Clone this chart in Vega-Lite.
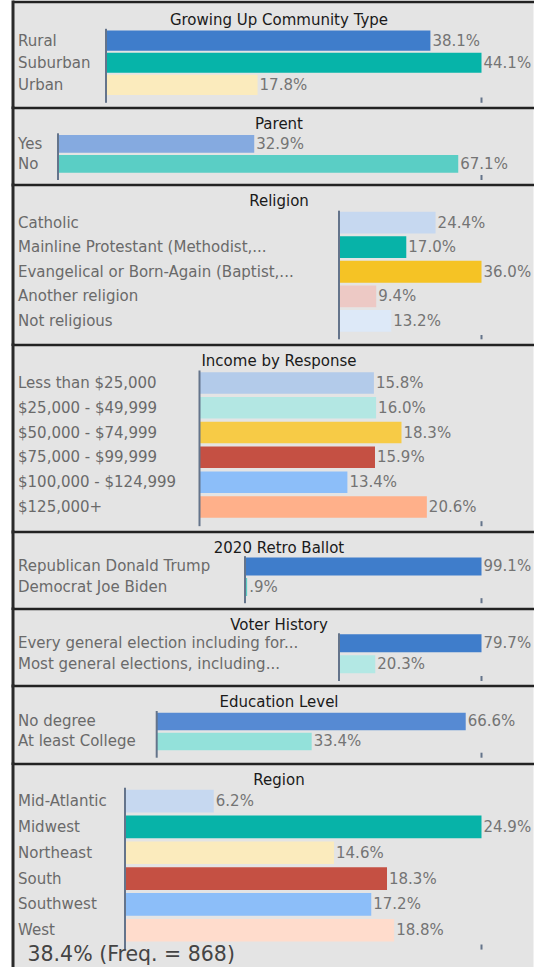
{
  "$schema": "https://vega.github.io/schema/vega-lite/v6.json",
  "background": "white",
  "padding": {"left": 12.5, "top": 1.5, "right": 0, "bottom": 0},
  "spacing": 0,
  "resolve": {"scale": {"color": "independent"}},
  "title": {"text": "38.4% (Freq. = 868)", "orient": "bottom", "anchor": "start", "frame": "bounds", "offset": -22, "dx": 15, "fontSize": 20.5, "color": "#444444", "fontWeight": "normal"},
  "config": {
    "font": "DejaVu Sans",
    "view": {"stroke": null, "fill": "#e4e4e4"},
    "axisX": {"domain": true, "domainColor": "#222222", "domainWidth": 2.5, "ticks": false, "labels": false, "grid": false},
    "axisY": {"domain": true, "domainColor": "#2a2a2a", "domainWidth": 3, "domainCap": "square", "ticks": false, "tickSize": 0, "labelAlign": "left", "labelPadding": -5, "labelFont": "DejaVu Sans", "labelFontSize": 15, "labelColor": "#6a6a6a", "labelLimit": 0, "grid": false},
    "title": {"font": "DejaVu Sans", "fontSize": 15, "fontWeight": "normal", "color": "#1a1a1a", "anchor": "middle", "frame": "group", "dx": 6},
    "text": {"font": "DejaVu Sans", "fontSize": 15, "color": "#747474"}
  },
  "vconcat": [
    {
      "width": 521, "height": 105.5,
      "title": {"text": "Growing Up Community Type", "offset": -26},
      "data": {"values": [
        {"cat": "Rural", "pct": 38.1, "label": "38.1%"},
        {"cat": "Suburban", "pct": 44.1, "label": "44.1%"},
        {"cat": "Urban", "pct": 17.8, "label": "17.8%"}
      ]},
      "layer": [
        {"mark": {"type": "bar"},
         "encoding": {
           "y": {"field": "cat", "type": "nominal", "title": null, "scale": {"domain": ["Rural", "Suburban", "Urban"], "paddingInner": 0.088, "paddingOuter": 0.926, "align": 0.707}},
           "x": {"field": "pct", "type": "quantitative", "title": null, "axis": {"orient": "top"}, "scale": {"domain": [-10.981, 50.207], "nice": false, "zero": false}},
           "color": {"field": "cat", "type": "nominal", "legend": null, "scale": {"domain": ["Rural", "Suburban", "Urban"], "range": ["#3f7dcb", "#06b4a9", "#fbebbd"]}}}},
        {"mark": {"type": "text", "align": "left", "baseline": "middle", "dx": 2},
         "encoding": {
           "y": {"field": "cat", "type": "nominal", "title": null},
           "x": {"field": "pct", "type": "quantitative", "title": null},
           "text": {"field": "label"}}},
        {"data": {"values": [{}]}, "mark": {"type": "rule", "color": "#64748b", "strokeWidth": 2},
         "encoding": {"x": {"datum": 0, "type": "quantitative"}, "y": {"datum": "Rural", "type": "nominal", "bandPosition": -0.084}, "y2": {"datum": "Urban", "bandPosition": 1.386}}},
        {"data": {"values": [{}]}, "mark": {"type": "rule", "color": "#64748b", "strokeWidth": 2},
         "encoding": {"x": {"datum": 44.1, "type": "quantitative"}, "y": {"datum": "Urban", "type": "nominal", "bandPosition": 1.124}, "y2": {"datum": "Urban", "bandPosition": 1.386}}}
      ]
    },
    {
      "width": 521, "height": 77,
      "title": {"text": "Parent", "offset": -24.5},
      "data": {"values": [
        {"cat": "Yes", "pct": 32.9, "label": "32.9%"},
        {"cat": "No", "pct": 67.1, "label": "67.1%"}
      ]},
      "layer": [
        {"mark": {"type": "bar"},
         "encoding": {
           "y": {"field": "cat", "type": "nominal", "title": null, "scale": {"domain": ["Yes", "No"], "paddingInner": 0.115, "paddingOuter": 0.9825, "align": 0.70}},
           "x": {"field": "pct", "type": "quantitative", "title": null, "axis": {"orient": "top"}, "scale": {"domain": [-7.628, 79.718], "nice": false, "zero": false}},
           "color": {"field": "cat", "type": "nominal", "legend": null, "scale": {"domain": ["Yes", "No"], "range": ["#85aae0", "#5acec5"]}}}},
        {"mark": {"type": "text", "align": "left", "baseline": "middle", "dx": 2},
         "encoding": {
           "y": {"field": "cat", "type": "nominal", "title": null},
           "x": {"field": "pct", "type": "quantitative", "title": null},
           "text": {"field": "label"}}},
        {"data": {"values": [{}]}, "mark": {"type": "rule", "color": "#64748b", "strokeWidth": 2},
         "encoding": {"x": {"datum": 0, "type": "quantitative"}, "y": {"datum": "Yes", "type": "nominal", "bandPosition": -0.096}, "y2": {"datum": "No", "bandPosition": 1.412}}},
        {"data": {"values": [{}]}, "mark": {"type": "rule", "color": "#64748b", "strokeWidth": 2},
         "encoding": {"x": {"datum": 71, "type": "quantitative"}, "y": {"datum": "No", "type": "nominal", "bandPosition": 1.13}, "y2": {"datum": "No", "bandPosition": 1.412}}}
      ]
    },
    {
      "width": 521, "height": 159.5,
      "title": {"text": "Religion", "offset": -24.5},
      "data": {"values": [
        {"cat": "Catholic", "pct": 24.4, "label": "24.4%"},
        {"cat": "Mainline Protestant (Methodist,...", "pct": 17.0, "label": "17.0%"},
        {"cat": "Evangelical or Born-Again (Baptist,...", "pct": 36.0, "label": "36.0%"},
        {"cat": "Another religion", "pct": 9.4, "label": "9.4%"},
        {"cat": "Not religious", "pct": 13.2, "label": "13.2%"}
      ]},
      "layer": [
        {"mark": {"type": "bar"},
         "encoding": {
           "y": {"field": "cat", "type": "nominal", "title": null, "scale": {"domain": ["Catholic", "Mainline Protestant (Methodist,...", "Evangelical or Born-Again (Baptist,...", "Another religion", "Not religious"], "paddingInner": 0.113, "paddingOuter": 0.8016, "align": 0.69}},
           "x": {"field": "pct", "type": "quantitative", "title": null, "axis": {"orient": "top"}, "scale": {"domain": [-82.484, 49.137], "nice": false, "zero": false}},
           "color": {"field": "cat", "type": "nominal", "legend": null, "scale": {"domain": ["Catholic", "Mainline Protestant (Methodist,...", "Evangelical or Born-Again (Baptist,...", "Another religion", "Not religious"], "range": ["#c6d8f0", "#07b3a8", "#f5c325", "#edc9c5", "#dde9f8"]}}}},
        {"mark": {"type": "text", "align": "left", "baseline": "middle", "dx": 2},
         "encoding": {
           "y": {"field": "cat", "type": "nominal", "title": null},
           "x": {"field": "pct", "type": "quantitative", "title": null},
           "text": {"field": "label"}}},
        {"data": {"values": [{}]}, "mark": {"type": "rule", "color": "#64748b", "strokeWidth": 2},
         "encoding": {"x": {"datum": 0, "type": "quantitative"}, "y": {"datum": "Catholic", "type": "nominal", "bandPosition": -0.046}, "y2": {"datum": "Not religious", "bandPosition": 1.344}}},
        {"data": {"values": [{}]}, "mark": {"type": "rule", "color": "#64748b", "strokeWidth": 2},
         "encoding": {"x": {"datum": 36.0, "type": "quantitative"}, "y": {"datum": "Not religious", "type": "nominal", "bandPosition": 1.147}, "y2": {"datum": "Not religious", "bandPosition": 1.344}}}
      ]
    },
    {
      "width": 521, "height": 187,
      "title": {"text": "Income by Response", "offset": -24.5},
      "data": {"values": [
        {"cat": "Less than $25,000", "pct": 15.8, "label": "15.8%"},
        {"cat": "$25,000 - $49,999", "pct": 16.0, "label": "16.0%"},
        {"cat": "$50,000 - $74,999", "pct": 18.3, "label": "18.3%"},
        {"cat": "$75,000 - $99,999", "pct": 15.9, "label": "15.9%"},
        {"cat": "$100,000 - $124,999", "pct": 13.4, "label": "13.4%"},
        {"cat": "$125,000+", "pct": 20.6, "label": "20.6%"}
      ]},
      "layer": [
        {"mark": {"type": "bar"},
         "encoding": {
           "y": {"field": "cat", "type": "nominal", "title": null, "scale": {"domain": ["Less than $25,000", "$25,000 - $49,999", "$50,000 - $74,999", "$75,000 - $99,999", "$100,000 - $124,999", "$125,000+"], "paddingInner": 0.133, "paddingOuter": 0.837, "align": 0.667}},
           "x": {"field": "pct", "type": "quantitative", "title": null, "axis": {"orient": "top"}, "scale": {"domain": [-16.943, 30.261], "nice": false, "zero": false}},
           "color": {"field": "cat", "type": "nominal", "legend": null, "scale": {"domain": ["Less than $25,000", "$25,000 - $49,999", "$50,000 - $74,999", "$75,000 - $99,999", "$100,000 - $124,999", "$125,000+"], "range": ["#b3cbea", "#b3e7e3", "#f7cb46", "#c55043", "#8cbef9", "#ffb08a"]}}}},
        {"mark": {"type": "text", "align": "left", "baseline": "middle", "dx": 2},
         "encoding": {
           "y": {"field": "cat", "type": "nominal", "title": null},
           "x": {"field": "pct", "type": "quantitative", "title": null},
           "text": {"field": "label"}}},
        {"data": {"values": [{}]}, "mark": {"type": "rule", "color": "#64748b", "strokeWidth": 2},
         "encoding": {"x": {"datum": 0, "type": "quantitative"}, "y": {"datum": "Less than $25,000", "type": "nominal", "bandPosition": -0.079}, "y2": {"datum": "$125,000+", "bandPosition": 1.395}}},
        {"data": {"values": [{}]}, "mark": {"type": "rule", "color": "#64748b", "strokeWidth": 2},
         "encoding": {"x": {"datum": 25.55, "type": "quantitative"}, "y": {"datum": "$125,000+", "type": "nominal", "bandPosition": 1.163}, "y2": {"datum": "$125,000+", "bandPosition": 1.395}}}
      ]
    },
    {
      "width": 521, "height": 76.5,
      "title": {"text": "2020 Retro Ballot", "offset": -24},
      "data": {"values": [
        {"cat": "Republican Donald Trump", "pct": 99.1, "label": "99.1%"},
        {"cat": "Democrat Joe Biden", "pct": 0.9, "label": ".9%"}
      ]},
      "layer": [
        {"mark": {"type": "bar"},
         "encoding": {
           "y": {"field": "cat", "type": "nominal", "title": null, "scale": {"domain": ["Republican Donald Trump", "Democrat Joe Biden"], "paddingInner": 0.12, "paddingOuter": 0.927, "align": 0.684}},
           "x": {"field": "pct", "type": "quantitative", "title": null, "axis": {"orient": "top"}, "scale": {"domain": [-97.424, 120.889], "nice": false, "zero": false}},
           "color": {"field": "cat", "type": "nominal", "legend": null, "scale": {"domain": ["Republican Donald Trump", "Democrat Joe Biden"], "range": ["#3f7dcb", "#5acec5"]}}}},
        {"mark": {"type": "text", "align": "left", "baseline": "middle", "dx": 2},
         "encoding": {
           "y": {"field": "cat", "type": "nominal", "title": null},
           "x": {"field": "pct", "type": "quantitative", "title": null},
           "text": {"field": "label"}}},
        {"data": {"values": [{}]}, "mark": {"type": "rule", "color": "#64748b", "strokeWidth": 2},
         "encoding": {"x": {"datum": 0, "type": "quantitative"}, "y": {"datum": "Republican Donald Trump", "type": "nominal", "bandPosition": -0.072}, "y2": {"datum": "Democrat Joe Biden", "bandPosition": 1.4}}},
        {"data": {"values": [{}]}, "mark": {"type": "rule", "color": "#64748b", "strokeWidth": 2},
         "encoding": {"x": {"datum": 99.1, "type": "quantitative"}, "y": {"datum": "Democrat Joe Biden", "type": "nominal", "bandPosition": 1.12}, "y2": {"datum": "Democrat Joe Biden", "bandPosition": 1.4}}}
      ]
    },
    {
      "width": 521, "height": 77,
      "title": {"text": "Voter History", "offset": -24.5},
      "data": {"values": [
        {"cat": "Every general election including for...", "pct": 79.7, "label": "79.7%"},
        {"cat": "Most general elections, including...", "pct": 20.3, "label": "20.3%"}
      ]},
      "layer": [
        {"mark": {"type": "bar"},
         "encoding": {
           "y": {"field": "cat", "type": "nominal", "title": null, "scale": {"domain": ["Every general election including for...", "Most general elections, including..."], "paddingInner": 0.148, "paddingOuter": 0.907, "align": 0.677}},
           "x": {"field": "pct", "type": "quantitative", "title": null, "axis": {"orient": "top"}, "scale": {"domain": [-182.611, 108.783], "nice": false, "zero": false}},
           "color": {"field": "cat", "type": "nominal", "legend": null, "scale": {"domain": ["Every general election including for...", "Most general elections, including..."], "range": ["#3f7dcb", "#b3e8e4"]}}}},
        {"mark": {"type": "text", "align": "left", "baseline": "middle", "dx": 2},
         "encoding": {
           "y": {"field": "cat", "type": "nominal", "title": null},
           "x": {"field": "pct", "type": "quantitative", "title": null},
           "text": {"field": "label"}}},
        {"data": {"values": [{}]}, "mark": {"type": "rule", "color": "#64748b", "strokeWidth": 2},
         "encoding": {"x": {"datum": 0, "type": "quantitative"}, "y": {"datum": "Every general election including for...", "type": "nominal", "bandPosition": -0.056}, "y2": {"datum": "Most general elections, including...", "bandPosition": 1.436}}},
        {"data": {"values": [{}]}, "mark": {"type": "rule", "color": "#64748b", "strokeWidth": 2},
         "encoding": {"x": {"datum": 79.7, "type": "quantitative"}, "y": {"datum": "Most general elections, including...", "type": "nominal", "bandPosition": 1.156}, "y2": {"datum": "Most general elections, including...", "bandPosition": 1.436}}}
      ]
    },
    {
      "width": 521, "height": 77.5,
      "title": {"text": "Education Level", "offset": -24.5},
      "data": {"values": [
        {"cat": "No degree", "pct": 66.6, "label": "66.6%"},
        {"cat": "At least College", "pct": 33.4, "label": "33.4%"}
      ]},
      "layer": [
        {"mark": {"type": "bar"},
         "encoding": {
           "y": {"field": "cat", "type": "nominal", "title": null, "scale": {"domain": ["No degree", "At least College"], "paddingInner": 0.128, "paddingOuter": 1.0015, "align": 0.679}},
           "x": {"field": "pct", "type": "quantitative", "title": null, "axis": {"orient": "top"}, "scale": {"domain": [-31.078, 81.207], "nice": false, "zero": false}},
           "color": {"field": "cat", "type": "nominal", "legend": null, "scale": {"domain": ["No degree", "At least College"], "range": ["#568ad3", "#93e1da"]}}}},
        {"mark": {"type": "text", "align": "left", "baseline": "middle", "dx": 2},
         "encoding": {
           "y": {"field": "cat", "type": "nominal", "title": null},
           "x": {"field": "pct", "type": "quantitative", "title": null},
           "text": {"field": "label"}}},
        {"data": {"values": [{}]}, "mark": {"type": "rule", "color": "#64748b", "strokeWidth": 2},
         "encoding": {"x": {"datum": 0, "type": "quantitative"}, "y": {"datum": "No degree", "type": "nominal", "bandPosition": -0.097}, "y2": {"datum": "At least College", "bandPosition": 1.433}}},
        {"data": {"values": [{}]}, "mark": {"type": "rule", "color": "#64748b", "strokeWidth": 2},
         "encoding": {"x": {"datum": 70, "type": "quantitative"}, "y": {"datum": "At least College", "type": "nominal", "bandPosition": 1.146}, "y2": {"datum": "At least College", "bandPosition": 1.433}}}
      ]
    },
    {
      "width": 521, "height": 203.5,
      "title": {"text": "Region", "offset": -24.5},
      "data": {"values": [
        {"cat": "Mid-Atlantic", "pct": 6.2, "label": "6.2%"},
        {"cat": "Midwest", "pct": 24.9, "label": "24.9%"},
        {"cat": "Northeast", "pct": 14.6, "label": "14.6%"},
        {"cat": "South", "pct": 18.3, "label": "18.3%"},
        {"cat": "Southwest", "pct": 17.2, "label": "17.2%"},
        {"cat": "West", "pct": 18.8, "label": "18.8%"}
      ]},
      "layer": [
        {"mark": {"type": "bar"},
         "encoding": {
           "y": {"field": "cat", "type": "nominal", "title": null, "scale": {"domain": ["Mid-Atlantic", "Midwest", "Northeast", "South", "Southwest", "West"], "paddingInner": 0.123, "paddingOuter": 1.045, "align": 0.508}},
           "x": {"field": "pct", "type": "quantitative", "title": null, "axis": {"orient": "top"}, "scale": {"domain": [-7.858, 28.532], "nice": false, "zero": false}},
           "color": {"field": "cat", "type": "nominal", "legend": null, "scale": {"domain": ["Mid-Atlantic", "Midwest", "Northeast", "South", "Southwest", "West"], "range": ["#c6d8f0", "#07b3a8", "#fbebbd", "#c55043", "#8cbef9", "#ffdccc"]}}}},
        {"mark": {"type": "text", "align": "left", "baseline": "middle", "dx": 2},
         "encoding": {
           "y": {"field": "cat", "type": "nominal", "title": null},
           "x": {"field": "pct", "type": "quantitative", "title": null},
           "text": {"field": "label"}}},
        {"data": {"values": [{}]}, "mark": {"type": "rule", "color": "#64748b", "strokeWidth": 2},
         "encoding": {"x": {"datum": 0, "type": "quantitative"}, "y": {"datum": "Mid-Atlantic", "type": "nominal", "bandPosition": -0.089}, "y2": {"datum": "West", "bandPosition": 1.353}}},
        {"data": {"values": [{}]}, "mark": {"type": "rule", "color": "#64748b", "strokeWidth": 2},
         "encoding": {"x": {"datum": 24.9, "type": "quantitative"}, "y": {"datum": "West", "type": "nominal", "bandPosition": 1.129}, "y2": {"datum": "West", "bandPosition": 1.353}}}
      ]
    }
  ]
}
